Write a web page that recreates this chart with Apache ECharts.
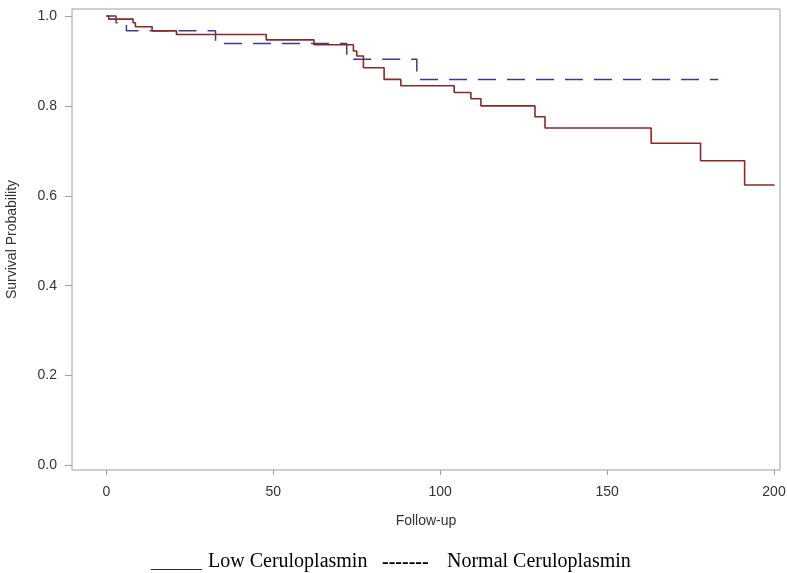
<!DOCTYPE html>
<html>
<head>
<meta charset="utf-8">
<script src="https://cdn.jsdelivr.net/npm/echarts@6/dist/echarts.min.js"></script>
<style>html,body{margin:0;padding:0;background:#fff}#c{width:787px;height:573px}</style>
</head>
<body>
<div id="c"></div>
<script>
// Low Ceruloplasmin (Kaplan-Meier steps)
var lowTime = [0, 0.7, 8, 8.7, 13.7, 21, 47.9, 62.2, 74, 75, 77, 83.2, 88.2, 104.2, 109.2, 112.2, 128.4, 131.4, 163.2, 178, 191.2, 200.2];
var lowSurv = [1.0, 0.993, 0.985, 0.976, 0.967, 0.959, 0.947, 0.936, 0.922, 0.911, 0.885, 0.859, 0.845, 0.830, 0.816, 0.800, 0.776, 0.751, 0.717, 0.678, 0.624, 0.624];
// Normal Ceruloplasmin
var normTime = [0, 2.9, 6, 32.7, 72, 93, 183.3];
var normSurv = [1.0, 0.985, 0.967, 0.939, 0.904, 0.859, 0.859];
var xTicks = [0, 50, 100, 150, 200];
var yTicks = [0, 0.2, 0.4, 0.6, 0.8, 1.0];
var xTitle = 'Follow-up';
var yTitle = 'Survival Probability';
var legendLow = 'Low Ceruloplasmin';
var legendNorm = 'Normal Ceruloplasmin';

function pairs(t, s) { return t.map(function (v, i) { return [v, s[i]]; }); }

var chart = echarts.init(document.getElementById('c'));
var axisFont = {fontFamily: 'Liberation Sans, Arial, sans-serif', fontSize: 14, color: '#333'};
var serif = 'Liberation Serif, Times New Roman, serif';
chart.setOption({
  animation: false,
  grid: {left: 72, right: 7, top: 9, bottom: 103, show: true, borderColor: '#a0a0a0', borderWidth: 1,
         containLabel: false, outerBoundsMode: 'none'},
  xAxis: {
    type: 'value', min: -10.3, max: 201.8,
    axisLine: {show: false, onZero: false},
    splitLine: {show: false},
    axisTick: {show: true, inside: false, length: 5, lineStyle: {color: '#a0a0a0'}, customValues: xTicks},
    axisLabel: Object.assign({margin: 15, customValues: xTicks, formatter: function (v) { return String(v); }}, axisFont),
    name: xTitle, nameLocation: 'middle', nameGap: 44,
    nameTextStyle: {fontFamily: 'Liberation Sans, Arial, sans-serif', fontSize: 14, color: '#333'}
  },
  yAxis: {
    type: 'value', min: -0.01, max: 1.0156,
    axisLine: {show: false, onZero: false},
    splitLine: {show: false},
    axisTick: {show: true, inside: false, length: 7, lineStyle: {color: '#a0a0a0'}, customValues: yTicks},
    axisLabel: Object.assign({margin: 15, customValues: yTicks, formatter: function (v) { return v.toFixed(1); }}, axisFont),
    name: yTitle, nameLocation: 'middle', nameGap: 53, nameRotate: 90,
    nameTextStyle: {fontFamily: 'Liberation Sans, Arial, sans-serif', fontSize: 14, color: '#333'}
  },
  series: [
    {
      name: legendNorm, type: 'line', step: 'end', showSymbol: false,
      data: pairs(normTime, normSurv),
      lineStyle: {color: '#3a3a8e', width: 1.5, type: [18, 11]}
    },
    {
      name: legendLow, type: 'line', step: 'end', showSymbol: false,
      data: pairs(lowTime, lowSurv),
      lineStyle: {color: '#8a2a26', width: 1.6}
    }
  ],
  graphic: [
    {type: 'text', left: 151, top: 555, style: {text: '______', fontFamily: serif, fontSize: 17, fill: '#000'}},
    {type: 'text', left: 208, top: 552, style: {text: legendLow, fontFamily: serif, fontSize: 20, fill: '#000'}},
    {type: 'text', left: 382, top: 553, style: {text: '-------', fontFamily: serif, fontSize: 20, fontWeight: 'bold', fill: '#000', letterSpacing: 2}},
    {type: 'text', left: 447, top: 552, style: {text: legendNorm, fontFamily: serif, fontSize: 20, fill: '#000'}}
  ]
});
</script>
</body>
</html>
